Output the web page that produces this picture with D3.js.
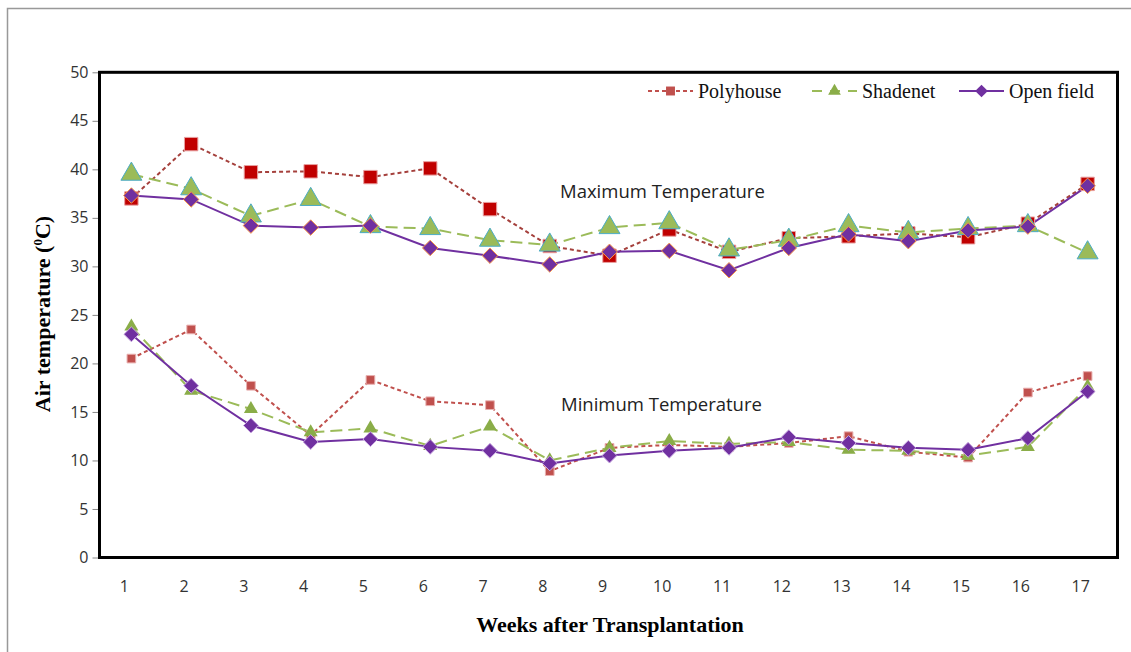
<!DOCTYPE html>
<html>
<head>
<meta charset="utf-8">
<script src="https://cdn.jsdelivr.net/npm/d3@7"></script>
<style>
  body { margin: 0; background: #fff; }
</style>
</head>
<body>
<div id="container"></div>
<script>
const weeks = [1, 2, 3, 4, 5, 6, 7, 8, 9, 10, 11, 12, 13, 14, 15, 16, 17];
const yTicks = [0, 5, 10, 15, 20, 25, 30, 35, 40, 45, 50];

const polyMax = [37.0, 42.6, 39.7, 39.8, 39.2, 40.1, 35.9, 32.1, 31.1, 33.8, 31.5, 32.9, 33.1, 33.4, 33.0, 34.4, 38.5];
const shadeMax = [39.5, 38.0, 35.2, 36.9, 34.1, 33.9, 32.7, 32.2, 34.0, 34.5, 31.7, 32.7, 34.2, 33.5, 33.9, 34.2, 31.4];
const openMax = [37.3, 36.9, 34.2, 34.0, 34.2, 31.9, 31.1, 30.2, 31.5, 31.6, 29.6, 31.9, 33.3, 32.6, 33.7, 34.1, 38.3];

const polyMin = [20.5, 23.5, 17.7, 12.6, 18.3, 16.1, 15.7, 8.9, 11.3, 11.6, 11.4, 11.8, 12.5, 10.9, 10.3, 17.0, 18.7];
const shadeMin = [23.8, 17.2, 15.3, 12.9, 13.3, 11.5, 13.5, 10.0, 11.3, 12.0, 11.7, 11.9, 11.1, 11.0, 10.5, 11.4, 17.6];
const openMin = [23.0, 17.7, 13.6, 11.9, 12.2, 11.4, 11.0, 9.7, 10.5, 11.0, 11.3, 12.4, 11.8, 11.3, 11.1, 12.3, 17.1];

const config = {
    width: 1131,
    height: 652,
    left: 101.5,
    right: 1117.5,
    top: 72.3,
    bottom: 557.5,
}

const svg = d3.select('#container')
    .append('svg')
    .attr('width', config.width)
    .attr('height', config.height)

// outer chart frame
svg.append('rect')
    .attr('x', 7.5)
    .attr('y', 8.5)
    .attr('width', config.width + 20)
    .attr('height', config.height + 20)
    .attr('fill', 'none')
    .attr('stroke', '#999')
    .attr('stroke-width', 1.5)

const xScale = d3.scaleBand()
    .domain(weeks)
    .range([config.left, config.right])

const x = w => xScale(w) + xScale.bandwidth() / 2

const yScale = d3.scaleLinear()
    .domain([0, 50])
    .range([config.bottom, config.top])

const tickFont = '"Open Sans", sans-serif'

// y axis
const yAxis = svg.append('g')
    .attr('transform', `translate(${config.left - 3},0)`)
    .call(d3.axisLeft(yScale).tickValues(yTicks).tickSize(6).tickPadding(4))
yAxis.select('.domain').remove()
yAxis.selectAll('.tick line').attr('stroke', '#888')
yAxis.selectAll('.tick text')
    .style('font-family', tickFont)
    .style('font-size', '16px')
    .attr('fill', '#333')

// x axis labels
const xAxis = svg.append('g')
    .attr('transform', `translate(0,${config.bottom})`)
    .call(d3.axisBottom(xScale).tickSize(0).tickPadding(23))
xAxis.select('.domain').remove()
xAxis.selectAll('.tick text')
    .attr('dx', -7)
    .style('font-family', tickFont)
    .style('font-size', '16px')
    .attr('fill', '#333')

// plot frame
svg.append('rect')
    .attr('x', config.left - 2)
    .attr('y', config.top)
    .attr('width', config.right - config.left + 2)
    .attr('height', config.bottom - config.top)
    .attr('fill', 'none')
    .attr('stroke', '#000')
    .attr('stroke-width', 3)

const line = d3.line()
    .x((d, i) => x(weeks[i]))
    .y(d => yScale(d))

// square diamond: a square turned by 45 degrees
const diamond = {
    draw(ctx, size) {
        const r = Math.sqrt(size / 2)
        ctx.moveTo(0, -r)
        ctx.lineTo(r, 0)
        ctx.lineTo(0, r)
        ctx.lineTo(-r, 0)
        ctx.closePath()
    }
}

const series = [
    {values: polyMax, color: '#A5403C', dash: '4,3', shape: d3.symbolSquare, size: 180, fill: '#C00000', stroke: '#E8A0A0'},
    {values: shadeMax, color: '#9BBB59', dash: '12,6', shape: d3.symbolTriangle, size: 190, fill: '#9BBB59', stroke: '#4BACC6'},
    {values: openMax, color: '#7030A0', dash: null, shape: diamond, size: 120, fill: '#7030A0', stroke: '#F79646'},
    {values: polyMin, color: '#C0504D', dash: '4,3', shape: d3.symbolSquare, size: 75, fill: '#C0504D', stroke: '#E8B0B0'},
    {values: shadeMin, color: '#9BBB59', dash: '12,6', shape: d3.symbolTriangle, size: 85, fill: '#8AAD48', stroke: 'none'},
    {values: openMin, color: '#7030A0', dash: null, shape: diamond, size: 110, fill: '#7030A0', stroke: '#C8A8E0'},
]

series.forEach(s => {
    svg.append('path')
        .datum(s.values)
        .attr('d', line)
        .attr('fill', 'none')
        .attr('stroke', s.color)
        .attr('stroke-width', 2)
        .attr('stroke-dasharray', s.dash)
})

series.forEach(s => {
    svg.append('g')
        .selectAll('path')
        .data(s.values)
        .join('path')
        .attr('d', d3.symbol().type(s.shape).size(s.size))
        .attr('transform', (d, i) => `translate(${x(weeks[i])},${yScale(d)})`)
        .attr('fill', s.fill)
        .attr('stroke', s.stroke)
        .attr('stroke-width', 1)
})

// annotations
svg.append('text')
    .attr('x', 560)
    .attr('y', 198)
    .text('Maximum Temperature')
    .style('font-family', tickFont)
    .style('font-size', '18.5px')
    .attr('fill', '#222')

svg.append('text')
    .attr('x', 561)
    .attr('y', 411)
    .text('Minimum Temperature')
    .style('font-family', tickFont)
    .style('font-size', '18.5px')
    .attr('fill', '#222')

// legend
const legendItems = [
    {name: 'Polyhouse', x: 648, color: '#C0504D', dash: '4,3', shape: d3.symbolSquare, size: 80},
    {name: 'Shadenet', x: 812, color: '#9BBB59', dash: '10,8', shape: d3.symbolTriangle, size: 70},
    {name: 'Open field', x: 959, color: '#7030A0', dash: null, shape: diamond, size: 80},
]
const legend = svg.append('g')
legendItems.forEach(item => {
    legend.append('line')
        .attr('x1', item.x)
        .attr('x2', item.x + 45)
        .attr('y1', 91)
        .attr('y2', 91)
        .attr('stroke', item.color)
        .attr('stroke-width', 2)
        .attr('stroke-dasharray', item.dash)
    legend.append('path')
        .attr('d', d3.symbol().type(item.shape).size(item.size))
        .attr('transform', `translate(${item.x + 22.5},91)`)
        .attr('fill', item.name === 'Shadenet' ? '#8AAD48' : item.color)
    legend.append('text')
        .attr('x', item.x + 50)
        .attr('y', 97.5)
        .text(item.name)
        .style('font-family', '"Liberation Serif", serif')
        .style('font-size', '20px')
        .attr('fill', '#111')
})

// axis titles
svg.append('text')
    .attr('x', 610)
    .attr('y', 632)
    .attr('text-anchor', 'middle')
    .text('Weeks after Transplantation')
    .style('font-family', '"Liberation Serif", serif')
    .style('font-size', '22px')
    .style('font-weight', 'bold')

const yTitle = svg.append('text')
    .attr('transform', 'translate(50,314) rotate(-90)')
    .attr('text-anchor', 'middle')
    .style('font-family', '"Liberation Serif", serif')
    .style('font-size', '22px')
    .style('font-weight', 'bold')
yTitle.append('tspan').text('Air temperature (')
yTitle.append('tspan').text('0').attr('font-size', '13px').attr('dy', -8)
yTitle.append('tspan').text('C)').attr('dy', 8)
</script>
</body>
</html>
